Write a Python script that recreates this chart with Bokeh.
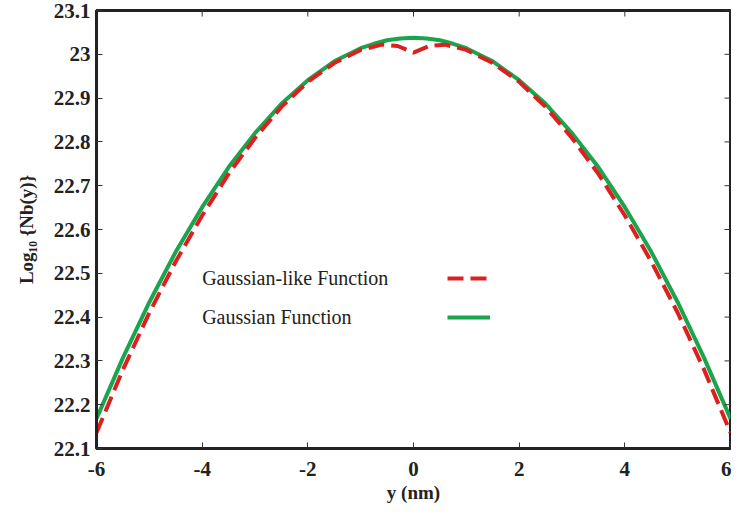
import math
from bokeh.plotting import figure
from bokeh.models import Range1d, FixedTicker, Label, Legend, LegendItem
from bokeh.embed import file_html
from bokeh.resources import INLINE

# Data
gauss_x = [-6, -5.5, -5, -4.5, -4, -3.5, -3, -2.5, -2, -1.5, -1, -0.75, -0.5, -0.25, 0,
           0.25, 0.5, 0.75, 1, 1.5, 2, 2.5, 3, 3.5, 4, 4.5, 5, 5.5, 6]
gauss_y = [22.168, 22.307, 22.434, 22.549, 22.651, 22.742, 22.820, 22.887, 22.941,
           22.984, 23.014, 23.024, 23.032, 23.036, 23.038, 23.036, 23.032, 23.024,
           23.014, 22.984, 22.941, 22.887, 22.820, 22.742, 22.651, 22.549, 22.434,
           22.307, 22.168]

glike_x = [-6, -5.5, -5, -4.5, -4, -3.5, -3, -2.5, -2, -1.5, -1, -0.6, -0.3, 0,
           0.3, 0.6, 1, 1.5, 2, 2.5, 3, 3.5, 4, 4.5, 5, 5.5, 6]
glike_y = [22.136, 22.280, 22.410, 22.527, 22.632, 22.727, 22.809, 22.880, 22.937,
           22.980, 23.010, 23.022, 23.019, 23.004, 23.019, 23.022, 23.010, 22.980,
           22.937, 22.880, 22.809, 22.727, 22.632, 22.527, 22.410, 22.280, 22.136]

x_ticks = [-6, -4, -2, 0, 2, 4, 6]
x_tick_labels = ["-6", "-4", "-2", "0", "2", "4", "6"]
y_ticks = [22.1, 22.2, 22.3, 22.4, 22.5, 22.6, 22.7, 22.8, 22.9, 23.0, 23.1]
y_tick_labels = ["22.1", "22.2", "22.3", "22.4", "22.5", "22.6", "22.7", "22.8",
                 "22.9", "23", "23.1"]

legend_labels = ["Gaussian-like Function", "Gaussian Function"]

RED = "#dd1f1f"
GREEN = "#1aa44c"
INK = "#222222"
FONT = "Liberation Serif"

x_lo, x_hi = x_ticks[0], x_ticks[-1]
y_lo, y_hi = y_ticks[0], y_ticks[-1]

p = figure(width=731, height=507, output_backend="svg", toolbar_location=None,
           x_range=Range1d(x_lo, x_hi), y_range=Range1d(y_lo, y_hi),
           min_border_left=96, min_border_right=1, min_border_top=10,
           min_border_bottom=59)
p.background_fill_color = "white"
p.border_fill_color = "white"
p.grid.visible = False
p.outline_line_color = INK
p.outline_line_width = 3

r_green = p.line(gauss_x, gauss_y, line_color=GREEN, line_width=4)
r_red = p.line(glike_x, glike_y, line_color=RED, line_width=4, line_dash="16 7")

for ax in [p.xaxis[0], p.yaxis[0]]:
    ax.axis_line_color = INK
    ax.axis_line_width = 3
    ax.major_tick_in = 6
    ax.major_tick_out = 0
    ax.minor_tick_line_color = None
    ax.major_tick_line_color = "#333333"
    ax.major_tick_line_width = 1
    ax.major_label_text_font = FONT
    ax.major_label_text_font_style = "bold"
    ax.major_label_text_font_size = "21px"
    ax.major_label_text_color = INK
    ax.axis_label_text_font = FONT
    ax.axis_label_text_font_style = "bold"
    ax.axis_label_text_font_size = "19px"
    ax.axis_label_text_color = INK

p.xaxis[0].ticker = FixedTicker(ticks=x_ticks)
p.yaxis[0].ticker = FixedTicker(ticks=y_ticks)
p.xaxis[0].major_label_overrides = dict(zip(x_ticks, x_tick_labels))
p.yaxis[0].major_label_overrides = dict(zip(y_ticks, y_tick_labels))
p.xaxis[0].axis_label = "y (nm)"
p.yaxis[0].axis_label = "Log₁₀ {Nb(y)}"
p.xaxis[0].major_label_standoff = 13
p.yaxis[0].major_label_standoff = 6
p.xaxis[0].axis_label_standoff = 3
p.yaxis[0].axis_label_standoff = 14

# inward ticks on the top and right frame edges
p.ray(x=x_ticks, y=[y_hi] * len(x_ticks), length=6, length_units="screen",
      angle=-math.pi / 2, line_color="#333333", line_width=1)
p.ray(x=[x_hi] * len(y_ticks), y=y_ticks, length=6, length_units="screen",
      angle=math.pi, line_color="#333333", line_width=1)

# legend texts (left) and line samples (right)
p.add_layout(Label(x=-4, y=22.49, text=legend_labels[0], text_font=FONT,
                   text_font_size="20px", text_baseline="middle", text_color=INK))
p.add_layout(Label(x=-4, y=22.40, text=legend_labels[1], text_font=FONT,
                   text_font_size="20px", text_baseline="middle", text_color=INK))

leg = Legend(items=[LegendItem(label=" ", renderers=[r_red]),
                    LegendItem(label=" ", renderers=[r_green])],
             location=(351, 121), glyph_width=43, glyph_height=20, label_height=20,
             spacing=19, padding=0, margin=0, label_standoff=0,
             background_fill_alpha=0, border_line_alpha=0,
             label_text_font_size="8px")
p.add_layout(leg)

open("out.html", "w").write(file_html(p, INLINE))
